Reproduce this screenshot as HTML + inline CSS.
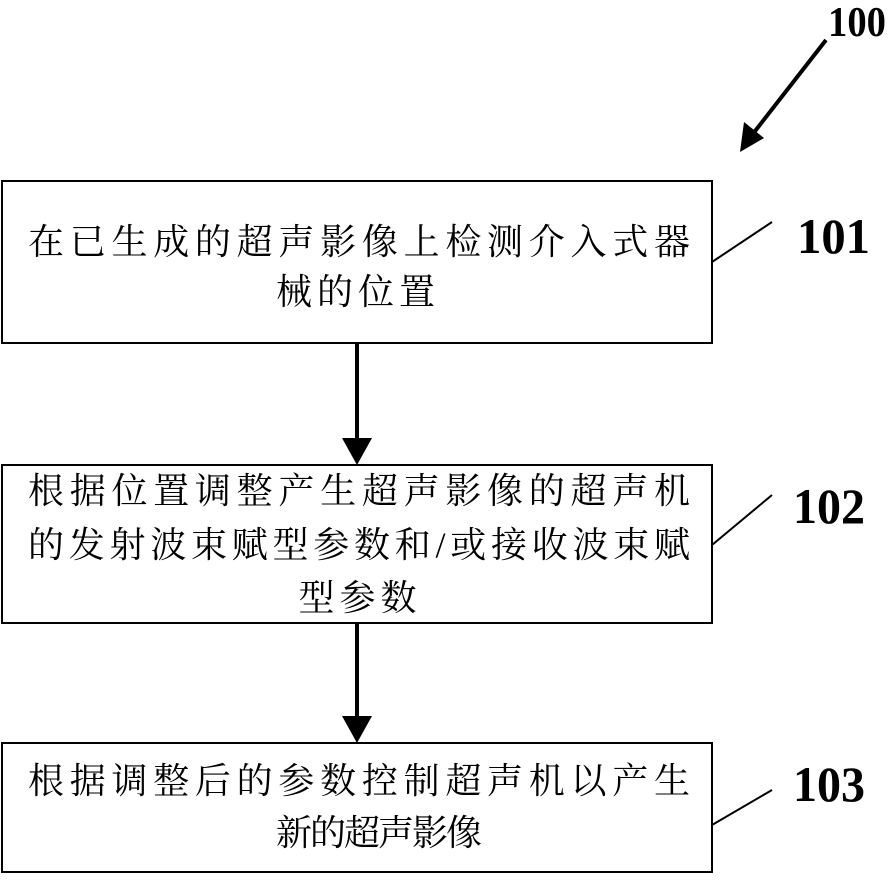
<!DOCTYPE html>
<html><head><meta charset="utf-8"><style>body{margin:0;background:#fff}</style></head><body>
<svg width="896" height="883" viewBox="0 0 896 883" xmlns="http://www.w3.org/2000/svg">
<g fill="none" stroke="#000" stroke-width="2">
<rect x="2" y="181" width="710" height="162"/>
<rect x="2" y="465" width="710" height="158"/>
<rect x="2" y="743" width="710" height="129"/>
<line x1="712" y1="262" x2="772" y2="222"/>
<line x1="712" y1="545" x2="772" y2="495"/>
<line x1="712" y1="825" x2="772" y2="790"/>
</g>
<g stroke="#000" stroke-width="4">
<line x1="357" y1="343" x2="357" y2="442"/>
<line x1="357" y1="623" x2="357" y2="720"/>
<line x1="826" y1="40" x2="752" y2="135"/>
</g>
<polygon points="342,438 372,438 357,465" fill="#000"/>
<polygon points="342,716 372,716 357,743" fill="#000"/>
<polygon points="740,152 744,122 764,138" fill="#000"/>
<g font-family="Liberation Serif, serif" font-weight="bold" font-size="50">
<text x="828" y="36" font-size="42" textLength="58" lengthAdjust="spacingAndGlyphs">100</text>
<text x="797" y="253" textLength="73" lengthAdjust="spacingAndGlyphs">101</text>
<text x="793" y="523" textLength="72" lengthAdjust="spacingAndGlyphs">102</text>
<text x="793" y="801" textLength="72" lengthAdjust="spacingAndGlyphs">103</text>
</g>
<g font-family="Liberation Serif, Noto Serif CJK SC, serif" font-size="36">
<text x="28" y="254" textLength="662" lengthAdjust="spacing">在已生成的超声影像上检测介入式器</text>
<text x="358" y="304" text-anchor="middle" letter-spacing="5">械的位置</text>
<text x="28" y="503" textLength="662" lengthAdjust="spacing">根据位置调整产生超声影像的超声机</text>
<text x="28" y="557" textLength="662" lengthAdjust="spacing">的发射波束赋型参数和/或接收波束赋</text>
<text x="360" y="610" text-anchor="middle" letter-spacing="5">型参数</text>
<text x="28" y="793" textLength="662" lengthAdjust="spacing">根据调整后的参数控制超声机以产生</text>
<text x="378" y="845" text-anchor="middle" letter-spacing="-2">新的超声影像</text>
</g>
</svg>
</body></html>
